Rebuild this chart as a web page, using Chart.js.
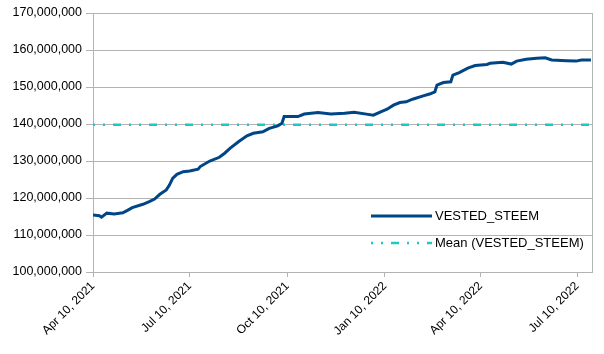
<!DOCTYPE html>
<html>
<head>
<meta charset="utf-8">
<script src="https://cdn.jsdelivr.net/npm/chart.js@4.4.1/dist/chart.umd.min.js"></script>
<style>
  html, body { margin: 0; padding: 0; background: #ffffff; }
  #wrap { width: 604px; height: 354px; }
</style>
</head>
<body>
<div id="wrap"><canvas id="c" width="604" height="354"></canvas></div>
<script>
// ---- data ----
const seriesLabel = "VESTED_STEEM";
const meanLabel = "Mean (VESTED_STEEM)";
const startDate = "2021-04-10";
const endDate = "2022-07-24";
const dates = [
  "2021-04-10","2021-04-16","2021-04-18","2021-04-23","2021-04-30","2021-05-08","2021-05-12","2021-05-17",
  "2021-05-27","2021-06-02","2021-06-07","2021-06-12","2021-06-18","2021-06-21","2021-06-24","2021-06-28",
  "2021-07-04","2021-07-10","2021-07-18","2021-07-20","2021-07-29","2021-08-07","2021-08-12","2021-08-17",
  "2021-08-25","2021-09-02","2021-09-08","2021-09-17","2021-09-23","2021-10-01","2021-10-05","2021-10-07",
  "2021-10-12","2021-10-20","2021-10-26","2021-11-08","2021-11-20","2021-12-03","2021-12-12","2021-12-25",
  "2021-12-30","2022-01-06","2022-01-12","2022-01-18","2022-01-24","2022-01-30","2022-02-05","2022-02-15",
  "2022-02-21","2022-02-26","2022-02-28","2022-03-06","2022-03-13","2022-03-15","2022-03-21","2022-03-29",
  "2022-04-05","2022-04-16","2022-04-19","2022-05-01","2022-05-09","2022-05-14","2022-05-23","2022-06-02",
  "2022-06-10","2022-06-16","2022-06-30","2022-07-09","2022-07-14","2022-07-23"
];
const values = [
  115.4e6,115.2e6,114.8e6,115.9e6,115.7e6,116.0e6,116.6e6,117.4e6,
  118.3e6,119.0e6,119.7e6,121.0e6,122.2e6,123.5e6,125.3e6,126.4e6,
  127.1e6,127.3e6,127.8e6,128.5e6,130.0e6,131.0e6,132.1e6,133.4e6,
  135.2e6,136.8e6,137.5e6,137.9e6,138.8e6,139.5e6,140.2e6,142.0e6,
  142.0e6,142.0e6,142.7e6,143.1e6,142.7e6,142.9e6,143.2e6,142.6e6,
  142.4e6,143.3e6,144.0e6,145.1e6,145.8e6,146.0e6,146.7e6,147.6e6,
  148.1e6,148.7e6,150.5e6,151.2e6,151.4e6,153.2e6,153.9e6,155.1e6,
  155.8e6,156.1e6,156.4e6,156.7e6,156.2e6,157.0e6,157.5e6,157.8e6,
  157.9e6,157.3e6,157.1e6,157.0e6,157.3e6,157.3e6
];
const meanValue = 139.8e6;
const tickDates = ["2021-04-10","2021-07-10","2021-10-10","2022-01-10","2022-04-10","2022-07-10"];
const tickLabels = ["Apr 10, 2021","Jul 10, 2021","Oct 10, 2021","Jan 10, 2022","Apr 10, 2022","Jul 10, 2022"];
const yMin = 100e6, yMax = 170e6, yStep = 10e6;

// ---- helpers ----
const DAY = 86400000;
function dayOf(s) {
  const p = s.split("-").map(Number);
  return Math.round((Date.UTC(p[0], p[1]-1, p[2]) - Date.UTC(...startDate.split("-").map((v,i)=>i===1?Number(v)-1:Number(v)))) / DAY);
}
const seriesPoints = dates.map((d, i) => ({ x: dayOf(d), y: values[i] }));
const meanPoints = [{ x: dayOf(dates[0]), y: meanValue }, { x: dayOf(dates[dates.length-1]), y: meanValue }];
const tickDays = tickDates.map(dayOf);

const FONT = "'Liberation Sans', Arial, sans-serif";
const GRID = "#b3b3b3";

const frameAndLegend = {
  id: "frameAndLegend",
  afterDatasetsDraw(chart) {
    const { ctx, chartArea } = chart;
    ctx.save();
    // right frame edge
    ctx.strokeStyle = GRID;
    ctx.lineWidth = 1;
    ctx.beginPath();
    ctx.moveTo(Math.round(chartArea.right) + 0.5, chartArea.top);
    ctx.lineTo(Math.round(chartArea.right) + 0.5, chartArea.bottom);
    ctx.stroke();
    // legend inside plot
    const x0 = chartArea.right - 221;
    let y = chartArea.top + 203;
    chart.data.datasets.forEach(ds => {
      ctx.strokeStyle = ds.borderColor;
      ctx.lineWidth = ds.borderWidth;
      ctx.setLineDash(ds.borderDash || []);
      ctx.beginPath();
      ctx.moveTo(x0, y);
      ctx.lineTo(x0 + 61, y);
      ctx.stroke();
      ctx.setLineDash([]);
      ctx.fillStyle = "#000000";
      ctx.font = "13px " + FONT;
      ctx.textBaseline = "middle";
      ctx.textAlign = "left";
      ctx.fillText(ds.label, x0 + 64, y + 0.5);
      y += 27;
    });
    ctx.restore();
  }
};

new Chart(document.getElementById("c"), {
  type: "line",
  data: {
    datasets: [
      {
        label: seriesLabel,
        data: seriesPoints,
        borderColor: "#004586",
        borderWidth: 3,
        pointRadius: 0,
        tension: 0,
        fill: false
      },
      {
        label: meanLabel,
        data: meanPoints,
        borderColor: "#1cc9c9",
        borderWidth: 2.5,
        borderDash: [2, 8, 2, 8, 8, 8],
        pointRadius: 0,
        tension: 0,
        fill: false
      }
    ]
  },
  options: {
    responsive: false,
    animation: false,
    devicePixelRatio: 1,
    layout: { padding: { top: 13, right: 12, left: 0, bottom: 0 } },
    plugins: { legend: { display: false }, tooltip: { enabled: false } },
    scales: {
      x: {
        type: "linear",
        min: 0,
        max: dayOf(endDate),
        afterBuildTicks(scale) { scale.ticks = tickDays.map(v => ({ value: v })); },
        afterFit(scale) { scale.height = 82; },
        grid: { drawOnChartArea: false, drawTicks: true, tickLength: 5, color: GRID },
        border: { color: GRID },
        ticks: {
          autoSkip: false,
          minRotation: 45,
          maxRotation: 45,
          padding: 2,
          color: "#000000",
          font: { family: FONT, size: 12 },
          callback(value) {
            const i = tickDays.indexOf(value);
            return i >= 0 ? tickLabels[i] : "";
          }
        }
      },
      y: {
        min: yMin,
        max: yMax,
        afterFit(scale) { scale.width = 93; },
        grid: { color: GRID, tickLength: 7 },
        border: { color: GRID },
        ticks: {
          stepSize: yStep,
          padding: 4,
          color: "#000000",
          font: { family: FONT, size: 12.5 },
          callback(v) { return Number(v).toLocaleString("en-US"); }
        }
      }
    }
  },
  plugins: [frameAndLegend]
});
</script>
</body>
</html>
